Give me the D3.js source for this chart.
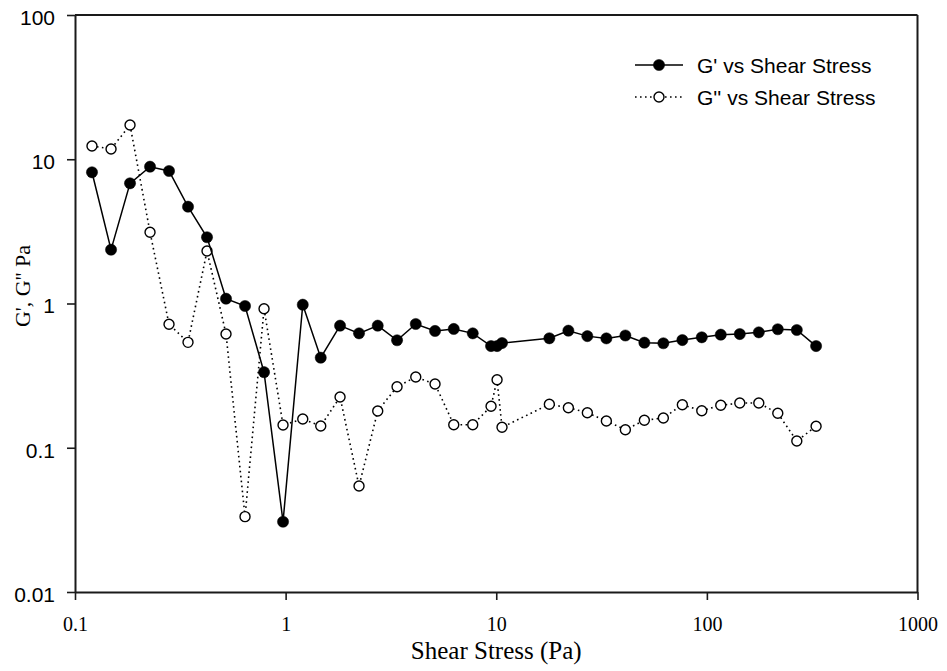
<!DOCTYPE html>
<html>
<head>
<meta charset="utf-8">
<script src="https://cdn.jsdelivr.net/npm/d3@7"></script>
<style>
  html, body { margin: 0; padding: 0; background: #fff; }
  svg { display: block; }
</style>
</head>
<body>
<svg id="chart" width="947" height="671"></svg>
<script>
// Shear stress sweep (Pa)
const stress = [
  0.1204, 0.1483, 0.1825, 0.2271, 0.2795, 0.3440, 0.4234, 0.5212, 0.6416, 0.7898,
  0.9721, 1.206, 1.468, 1.813, 2.231, 2.737, 3.381, 4.148, 5.121, 6.284,
  7.734, 9.447, 10.09, 10.65, 17.87, 22.00, 27.07, 33.33, 41.02, 50.49,
  62.14, 76.48, 94.58, 116.4, 143.3, 176.4, 217.1, 267.3, 330.0
];

// Storage modulus G' (Pa)
const gPrime = [
  8.12, 2.36, 6.81, 8.88, 8.29, 4.69, 2.88, 1.08, 0.961, 0.334,
  0.0307, 0.981, 0.421, 0.702, 0.621, 0.702, 0.556, 0.721, 0.645, 0.666,
  0.621, 0.507, 0.507, 0.532, 0.574, 0.648, 0.594, 0.573, 0.600, 0.535,
  0.530, 0.558, 0.583, 0.608, 0.614, 0.631, 0.663, 0.655, 0.507
];

// Loss modulus G'' (Pa)
const gDoublePrime = [
  12.36, 11.78, 17.28, 3.12, 0.718, 0.538, 2.31, 0.614, 0.0333, 0.920,
  0.1438, 0.1582, 0.1415, 0.2248, 0.0543, 0.1799, 0.2650, 0.3094, 0.2766, 0.1445,
  0.1445, 0.1938, 0.2963, 0.1386, 0.2001, 0.1895, 0.1750, 0.1532, 0.1334, 0.1550,
  0.1608, 0.1988, 0.1806, 0.1969, 0.2042, 0.2042, 0.1733, 0.1114, 0.1408
];

const xTicks = [0.1, 1, 10, 100, 1000];
const xTickLabels = ["0.1", "1", "10", "100", "1000"];
const yTicks = [0.01, 0.1, 1, 10, 100];
const yTickLabels = ["0.01", "0.1", "1", "10", "100"];

const seriesNames = ["G' vs Shear Stress", "G'' vs Shear Stress"];
const xTitle = "Shear Stress (Pa)";
const yTitle = "G', G'' Pa";

const svg = d3.select("#chart");
const plotLeft = 75, plotRight = 917.5, plotTop = 15, plotBottom = 592;

const x = d3.scaleLog().domain([0.1, 1000]).range([plotLeft, plotRight]);
const y = d3.scaleLog().domain([0.01, 100]).range([plotBottom, plotTop]);

const axisColor = "#1a1a1a";
const serif = "'Liberation Serif', 'Times New Roman', serif";
const sans = "'Liberation Sans', Arial, sans-serif";

// Frame: top and right edges
svg.append("line")
  .attr("x1", x(0.1)).attr("x2", x(1000))
  .attr("y1", y(100)).attr("y2", y(100))
  .attr("stroke", axisColor).attr("stroke-width", 2);
svg.append("line")
  .attr("x1", x(1000)).attr("x2", x(1000))
  .attr("y1", y(100)).attr("y2", y(0.01))
  .attr("stroke", axisColor).attr("stroke-width", 2);

// Bottom axis
const xAxis = svg.append("g")
  .attr("transform", `translate(0,${plotBottom})`)
  .call(d3.axisBottom(x)
    .tickValues(xTicks)
    .tickFormat((d, i) => xTickLabels[i])
    .tickSize(8).tickSizeOuter(0).tickPadding(17));
xAxis.select(".domain").attr("stroke", axisColor).attr("stroke-width", 2);
xAxis.selectAll(".tick line").attr("stroke", axisColor).attr("stroke-width", 1.6);
xAxis.selectAll(".tick text")
  .attr("fill", "#000")
  .style("font-family", serif)
  .style("font-size", "20px");

// Left axis
const yAxis = svg.append("g")
  .attr("transform", `translate(${plotLeft},0)`)
  .call(d3.axisLeft(y)
    .tickValues(yTicks)
    .tickFormat((d, i) => yTickLabels[i])
    .tickSize(8).tickSizeOuter(0).tickPadding(12));
yAxis.select(".domain").attr("stroke", axisColor).attr("stroke-width", 2);
yAxis.selectAll(".tick line").attr("stroke", axisColor).attr("stroke-width", 1.6);
yAxis.selectAll(".tick text")
  .attr("fill", "#000")
  .attr("dy", "0.44em")
  .style("font-family", sans)
  .style("font-size", "21px");

// Axis titles
svg.append("text")
  .attr("x", (plotLeft + plotRight) / 2).attr("y", 659)
  .attr("text-anchor", "middle")
  .style("font-family", serif).style("font-size", "25px")
  .text(xTitle);

svg.append("text")
  .attr("transform", "translate(30,286) rotate(-90)")
  .attr("text-anchor", "middle")
  .style("font-family", serif).style("font-size", "22px")
  .text(yTitle);

// Series
const series = [
  { name: seriesNames[0], values: gPrime, dash: null, filled: true },
  { name: seriesNames[1], values: gDoublePrime, dash: "1.6,3.4", filled: false }
];

const line = d3.line()
  .x(d => x(d[0]))
  .y(d => y(d[1]));

// Draw the dotted G'' first, then G' on top
[series[1], series[0]].forEach(s => {
  const pts = stress.map((v, i) => [v, s.values[i]]);
  svg.append("path")
    .datum(pts)
    .attr("d", line)
    .attr("fill", "none")
    .attr("stroke", "#000")
    .attr("stroke-width", s.filled ? 1.5 : 1.6)
    .attr("stroke-dasharray", s.dash);
  svg.append("g").selectAll("circle")
    .data(pts)
    .join("circle")
    .attr("cx", d => x(d[0]))
    .attr("cy", d => y(d[1]))
    .attr("r", s.filled ? 5.6 : 5)
    .attr("fill", s.filled ? "#000" : "#fff")
    .attr("stroke", "#000")
    .attr("stroke-width", s.filled ? 0.5 : 1.4);
});

// Legend
const legend = svg.append("g").attr("transform", "translate(635,65)");
series.forEach((s, i) => {
  const g = legend.append("g").attr("transform", `translate(0,${i * 32})`);
  g.append("line")
    .attr("x1", 0).attr("x2", 48).attr("y1", 0).attr("y2", 0)
    .attr("stroke", "#000")
    .attr("stroke-width", s.filled ? 1.5 : 1.6)
    .attr("stroke-dasharray", s.dash);
  g.append("circle")
    .attr("cx", 24).attr("cy", 0)
    .attr("r", s.filled ? 5.6 : 5)
    .attr("fill", s.filled ? "#000" : "#fff")
    .attr("stroke", "#000")
    .attr("stroke-width", s.filled ? 0.5 : 1.4);
  g.append("text")
    .attr("x", 62).attr("y", 0).attr("dy", "0.36em")
    .style("font-family", sans).style("font-size", "21px")
    .text(s.name);
});
</script>
</body>
</html>
